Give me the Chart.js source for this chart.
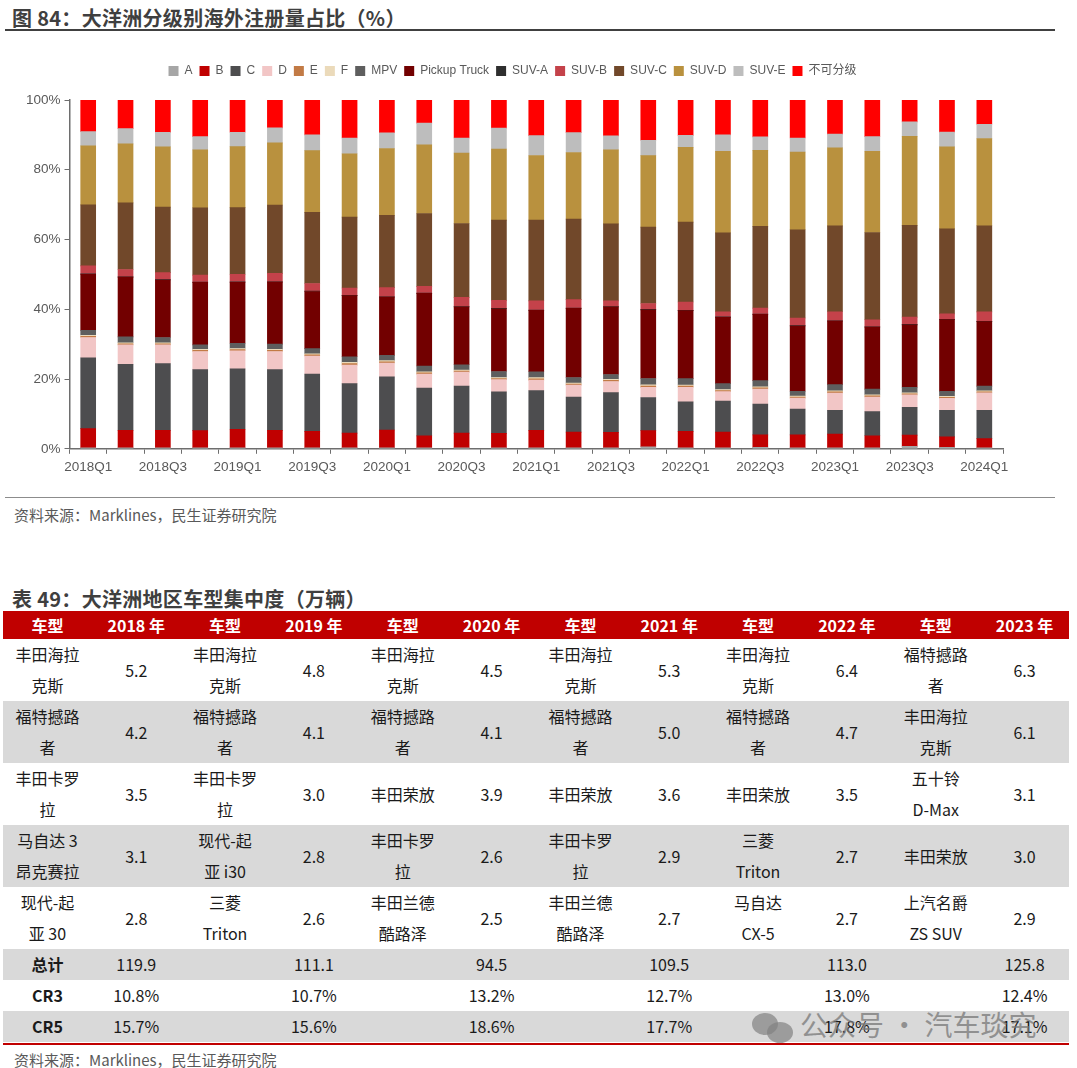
<!DOCTYPE html>
<html>
<head>
<meta charset="utf-8">
<script src="https://cdn.jsdelivr.net/npm/chart.js@4/dist/chart.umd.min.js"></script>
<style>
  html,body{margin:0;padding:0;background:#fff;}
  body{width:1077px;height:1068px;position:relative;overflow:hidden;font-family:"Noto Sans CJK SC","Liberation Sans",sans-serif;}
  .title{position:absolute;left:12px;font-size:20px;font-weight:bold;color:#3f3f3f;line-height:22px;letter-spacing:0.3px;}
  .rule{position:absolute;left:5px;width:1050px;}
  .src{position:absolute;left:14px;font-size:15px;color:#595959;line-height:18px;}
  #chartWrap{position:absolute;left:0;top:48px;width:1070px;height:432px;}
  table{position:absolute;left:3px;top:611px;width:1066px;border-collapse:collapse;table-layout:fixed;font-size:16px;color:#1a1a1a;}
  td,th{padding:0;text-align:center;vertical-align:middle;}
  th{background:#C00000;color:#fff;font-weight:bold;height:28px;font-size:16px;}
  tr.big td{height:62px;line-height:31px;}
  tr.small td{height:31px;line-height:31px;}
  tr.g td{background:#D9D9D9;}
  td.b{font-weight:bold;}
  .wm{position:absolute;left:752px;top:1005px;color:rgba(120,120,120,0.75);font-size:28px;line-height:38px;white-space:nowrap;}
  .wm .ic{display:inline-block;position:relative;width:42px;height:34px;vertical-align:middle;margin-right:6px;}
  .wm .ic span{position:absolute;border-radius:50%;background:rgba(130,130,130,0.7);}
</style>
</head>
<body>
<div class="title" style="top:7px;">图 84：大洋洲分级别海外注册量占比（%）</div>
<div class="rule" style="top:29px;height:2px;background:#404040;"></div>
<div id="chartWrap"><canvas id="c"></canvas></div>
<div class="rule" style="top:497px;height:1px;background:#8c8c8c;"></div>
<div class="src" style="top:506px;">资料来源：Marklines，民生证券研究院</div>

<div class="title" style="top:588px;">表 49：大洋洲地区车型集中度（万辆）</div>
<table>
  <colgroup><col><col><col><col><col><col><col><col><col><col><col><col></colgroup>
  <tr><th>车型</th><th>2018 年</th><th>车型</th><th>2019 年</th><th>车型</th><th>2020 年</th><th>车型</th><th>2021 年</th><th>车型</th><th>2022 年</th><th>车型</th><th>2023 年</th></tr>
  <tr class="big"><td>丰田海拉<br>克斯</td><td>5.2</td><td>丰田海拉<br>克斯</td><td>4.8</td><td>丰田海拉<br>克斯</td><td>4.5</td><td>丰田海拉<br>克斯</td><td>5.3</td><td>丰田海拉<br>克斯</td><td>6.4</td><td>福特撼路<br>者</td><td>6.3</td></tr>
  <tr class="big g"><td>福特撼路<br>者</td><td>4.2</td><td>福特撼路<br>者</td><td>4.1</td><td>福特撼路<br>者</td><td>4.1</td><td>福特撼路<br>者</td><td>5.0</td><td>福特撼路<br>者</td><td>4.7</td><td>丰田海拉<br>克斯</td><td>6.1</td></tr>
  <tr class="big"><td>丰田卡罗<br>拉</td><td>3.5</td><td>丰田卡罗<br>拉</td><td>3.0</td><td>丰田荣放</td><td>3.9</td><td>丰田荣放</td><td>3.6</td><td>丰田荣放</td><td>3.5</td><td>五十铃<br>D-Max</td><td>3.1</td></tr>
  <tr class="big g"><td>马自达 3<br>昂克赛拉</td><td>3.1</td><td>现代-起<br>亚 i30</td><td>2.8</td><td>丰田卡罗<br>拉</td><td>2.6</td><td>丰田卡罗<br>拉</td><td>2.9</td><td>三菱<br>Triton</td><td>2.7</td><td>丰田荣放</td><td>3.0</td></tr>
  <tr class="big"><td>现代-起<br>亚 30</td><td>2.8</td><td>三菱<br>Triton</td><td>2.6</td><td>丰田兰德<br>酷路泽</td><td>2.5</td><td>丰田兰德<br>酷路泽</td><td>2.7</td><td>马自达<br>CX-5</td><td>2.7</td><td>上汽名爵<br>ZS SUV</td><td>2.9</td></tr>
  <tr class="small g"><td class="b">总计</td><td>119.9</td><td></td><td>111.1</td><td></td><td>94.5</td><td></td><td>109.5</td><td></td><td>113.0</td><td></td><td>125.8</td></tr>
  <tr class="small"><td class="b">CR3</td><td>10.8%</td><td></td><td>10.7%</td><td></td><td>13.2%</td><td></td><td>12.7%</td><td></td><td>13.0%</td><td></td><td>12.4%</td></tr>
  <tr class="small g"><td class="b">CR5</td><td>15.7%</td><td></td><td>15.6%</td><td></td><td>18.6%</td><td></td><td>17.7%</td><td></td><td>17.8%</td><td></td><td>17.1%</td></tr>
</table>
<div class="rule" style="top:1043px;left:3px;width:1066px;height:2px;background:#C00000;"></div>
<div class="src" style="top:1051px;">资料来源：Marklines，民生证券研究院</div>
<div class="wm"><span class="ic"><span style="left:0;top:2px;width:26px;height:22px;"></span><span style="left:15px;top:11px;width:26px;height:21px;"></span></span>公众号 · 汽车琰究</div>

<script>
const quarters = ['2018Q1','2018Q2','2018Q3','2018Q4','2019Q1','2019Q2','2019Q3','2019Q4','2020Q1','2020Q2','2020Q3','2020Q4','2021Q1','2021Q2','2021Q3','2021Q4','2022Q1','2022Q2','2022Q3','2022Q4','2023Q1','2023Q2','2023Q3','2023Q4','2024Q1'];
const segA    = [0.3,0.3,0.3,0.3,0.3,0.3,0.3,0.3,0.3,0.3,0.3,0.3,0.3,0.3,0.3,0.6,0.3,0.3,0.4,0.3,0.3,0.3,0.7,0.4,0.3];
const segB    = [5.5,5.0,5.0,4.9,5.3,5.0,4.7,4.2,5.1,3.4,4.2,4.1,5.0,4.5,4.4,4.6,4.7,4.5,3.6,3.7,3.9,3.45,3.2,3.0,2.6];
const segC    = [20.3,18.9,19.1,17.5,17.3,17.4,16.4,14.2,15.2,13.7,13.5,11.9,11.4,10.0,11.4,9.5,8.45,8.9,8.85,7.4,6.8,6.9,8.0,7.6,8.15];
const segD    = [5.8,5.6,5.4,5.2,5.2,5.2,5.2,5.3,4.0,4.0,4.0,3.55,3.0,3.45,3.2,2.9,4.2,2.7,4.3,3.15,5.0,4.2,3.55,3.45,5.0];
const segE    = [0.35,0.3,0.3,0.3,0.35,0.3,0.35,0.4,0.35,0.35,0.3,0.3,0.35,0.3,0.3,0.4,0.35,0.3,0.3,0.3,0.3,0.35,0.3,0.3,0.3];
const segF    = [0.3,0.3,0.3,0.3,0.3,0.3,0.3,0.4,0.35,0.3,0.3,0.3,0.35,0.3,0.3,0.35,0.3,0.3,0.3,0.3,0.3,0.3,0.3,0.3,0.3];
const segMPV  = [1.4,1.7,1.5,1.3,1.5,1.5,1.45,1.6,1.5,1.7,1.5,1.7,1.7,1.6,1.4,1.8,1.8,1.7,1.8,1.35,1.8,1.6,1.6,1.4,1.3];
const segPU   = [16.1,17.1,16.5,17.9,17.5,17.8,16.4,17.5,16.7,20.8,16.6,18.0,17.6,19.8,19.4,19.7,19.5,19.0,19.0,18.7,18.2,17.8,17.9,20.6,18.5];
const segSUVA = [0.1,0.1,0.1,0.1,0.1,0.1,0.1,0.1,0.1,0.1,0.1,0.1,0.1,0.1,0.1,0.1,0.1,0.1,0.1,0.1,0.1,0.1,0.1,0.1,0.1];
const segSUVB = [2.3,2.1,2.0,2.0,2.2,2.4,2.2,2.1,2.6,1.9,2.6,2.3,2.6,2.4,1.6,1.7,2.4,1.5,1.7,2.2,2.6,2.0,2.1,1.55,2.7];
const segSUVC = [17.5,19.1,18.8,19.3,19.1,19.6,20.4,20.3,20.7,20.9,21.2,23.0,23.2,23.1,22.1,21.9,22.9,22.6,23.4,25.3,24.6,25.0,26.3,24.4,24.7];
const segSUVD = [16.9,16.9,17.3,16.6,17.5,17.8,17.7,18.2,19.2,19.7,20.2,20.4,18.5,19.1,21.2,20.5,21.4,23.4,21.8,22.3,22.4,23.3,25.5,23.5,25.0];
const segSUVE = [4.1,4.4,4.1,3.8,4.1,4.3,4.5,4.5,4.5,6.2,4.3,6.0,5.7,5.7,4.0,4.4,3.45,4.7,3.9,4.0,3.9,4.2,4.2,4.2,4.1];
const segNC   = [9.0,8.2,9.3,10.5,9.3,8.0,10.0,10.9,9.4,6.6,10.9,8.0,10.2,9.4,10.3,11.5,10.1,10.0,10.5,10.9,9.8,10.5,6.2,9.2,6.9];
const yTicks  = [0,20,40,60,80,100];

const seriesNames = ['A','B','C','D','E','F','MPV','Pickup Truck','SUV-A','SUV-B','SUV-C','SUV-D','SUV-E','不可分级'];
const seriesData  = [segA,segB,segC,segD,segE,segF,segMPV,segPU,segSUVA,segSUVB,segSUVC,segSUVD,segSUVE,segNC];
const seriesColors = ['#A6A6A6','#C00000','#4D4D4F','#F2C6C6','#C27A45','#EBDABA','#5E5E5E','#720000','#2E2E2E','#C4424A','#71482A','#B9913E','#BDBDBD','#FF0000'];

const FONT = '"Liberation Sans","Noto Sans CJK SC",Arial,sans-serif';
const TXT = '#595959';

const legendGap = {
  id: 'legendGap',
  beforeInit(chart) {
    const orig = chart.legend.fit;
    chart.legend.fit = function() { orig.bind(chart.legend)(); this.height += 13; };
  }
};

new Chart(document.getElementById('c'), {
  type: 'bar',
  plugins: [legendGap],
  data: {
    labels: quarters,
    datasets: seriesNames.map((n,i)=>({
      label: n,
      data: seriesData[i],
      backgroundColor: seriesColors[i],
      borderWidth: 0,
      barThickness: 15
    }))
  },
  options: {
    responsive: true,
    maintainAspectRatio: false,
    animation: false,
    layout: { padding: { left: 22, right: 67, top: 10, bottom: 0 } },
    plugins: {
      legend: {
        position: 'top',
        labels: { boxWidth: 10, boxHeight: 10, padding: 7, color: TXT, font: { family: FONT, size: 12 } }
      },
      tooltip: { enabled: false }
    },
    scales: {
      x: {
        stacked: true,
        offset: true,
        grid: { display: true, drawOnChartArea: false, drawTicks: true, tickLength: 5, color: '#6e6e6e', offset: true },
        border: { display: true, color: '#6e6e6e', width: 1.5 },
        ticks: {
          autoSkip: false, maxRotation: 0, minRotation: 0, color: TXT, padding: 5,
          font: { family: FONT, size: 13.5 },
          callback: function(v, i){ return i % 2 === 0 ? this.getLabelForValue(v) : ''; }
        }
      },
      y: {
        stacked: true,
        min: 0, max: 100,
        afterBuildTicks: (ax) => { ax.ticks = yTicks.map(v=>({value:v})); },
        grid: { display: true, drawOnChartArea: false, drawTicks: true, tickLength: 5, color: '#6e6e6e' },
        border: { display: true, color: '#6e6e6e', width: 1.5 },
        ticks: { color: TXT, padding: 4, font: { family: FONT, size: 13.5 }, callback: v => v + '%' }
      }
    }
  }
});
</script>
</body>
</html>
